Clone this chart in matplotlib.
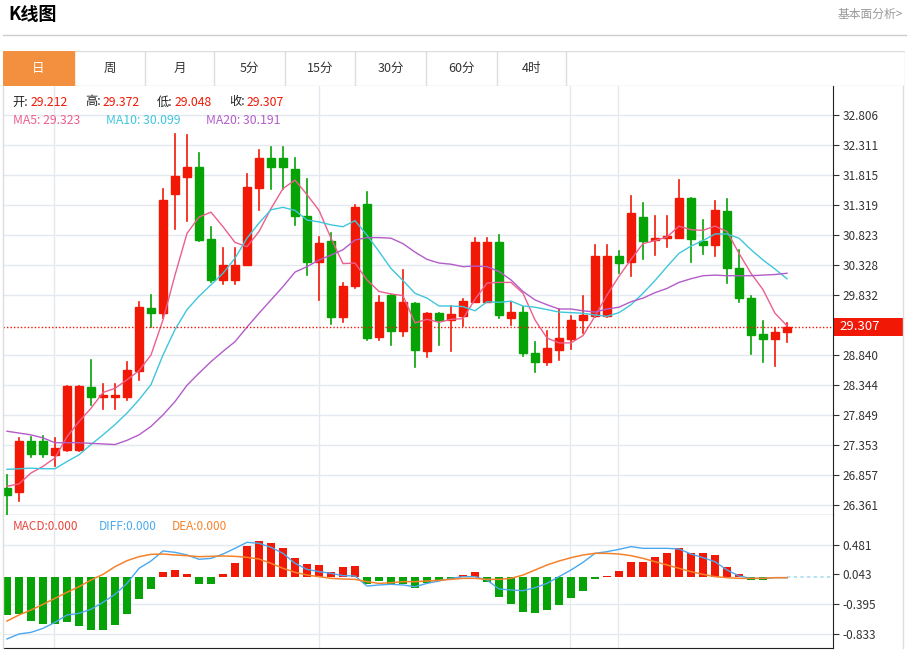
import numpy as np
import matplotlib.pyplot as plt
from matplotlib.patches import Rectangle

plt.rcParams['font.family'] = ['Noto Sans CJK SC', 'DejaVu Sans']

# daily candles: open, high, low, close
opens = [26.65, 26.57, 27.42, 27.42, 27.19, 27.27, 27.27, 28.31, 28.15, 28.15,
         28.15, 28.57, 29.62, 29.54, 31.50, 31.78, 31.95, 30.75, 30.08, 30.08,
         30.32, 31.60, 32.09, 32.09, 31.91, 31.13, 30.37, 30.73, 29.46, 29.98,
         31.33, 29.13, 29.83, 29.24, 29.70, 28.91, 29.53, 29.42, 29.49, 29.71,
         29.71, 30.70, 29.45, 29.55, 28.88, 28.73, 28.92, 29.11, 29.42, 29.49,
         29.48, 30.47, 30.37, 31.12, 30.74, 30.77, 30.78, 31.43, 30.73, 30.65,
         31.22, 30.27, 29.78, 29.18, 29.10, 29.212]
highs = [26.86, 27.47, 27.49, 27.50, 27.47, 28.33, 28.33, 28.75, 28.36, 28.36,
         28.72, 29.72, 29.83, 31.58, 32.49, 32.48, 32.18, 30.96, 30.60, 30.60,
         31.83, 32.23, 32.28, 32.28, 32.09, 31.75, 30.79, 30.86, 30.03, 31.32,
         31.53, 29.81, 29.83, 30.24, 29.70, 29.54, 29.54, 29.65, 29.76, 30.77,
         30.77, 30.82, 29.71, 29.64, 29.06, 29.24, 29.60, 29.48, 29.81, 30.65,
         30.65, 30.56, 31.47, 31.35, 31.13, 31.14, 31.73, 31.43, 31.07, 31.39,
         31.41, 30.58, 29.82, 29.40, 29.28, 29.372]
lows = [26.20, 26.42, 27.15, 27.15, 27.00, 27.26, 27.26, 28.02, 27.95, 27.95,
        28.10, 28.42, 29.31, 29.45, 30.92, 31.06, 30.73, 30.04, 30.02, 30.02,
        30.32, 31.23, 31.58, 31.58, 30.99, 30.16, 29.75, 29.35, 29.38, 29.95,
        29.09, 29.09, 29.01, 29.16, 28.64, 28.81, 29.01, 28.91, 29.32, 29.71,
        29.71, 29.45, 29.33, 28.83, 28.56, 28.67, 28.76, 28.94, 29.20, 29.47,
        29.47, 30.19, 30.14, 30.42, 30.49, 30.63, 30.78, 30.37, 30.51, 30.48,
        30.03, 29.72, 28.86, 28.73, 28.65, 29.048]
closes = [26.53, 27.42, 27.20, 27.20, 27.31, 28.32, 28.32, 28.14, 28.18, 28.18,
          28.60, 29.64, 29.54, 31.40, 31.79, 31.95, 30.74, 30.08, 30.33, 30.33,
          31.61, 32.09, 31.94, 31.94, 31.13, 30.37, 30.69, 29.46, 29.98, 31.29,
          29.12, 29.72, 29.24, 29.71, 28.92, 29.54, 29.42, 29.51, 29.74, 30.71,
          30.71, 29.50, 29.55, 28.87, 28.73, 28.95, 29.12, 29.42, 29.50, 30.48,
          30.48, 30.36, 31.19, 30.73, 30.78, 30.80, 31.44, 30.76, 30.65, 31.24,
          30.27, 29.79, 29.17, 29.10, 29.22, 29.307]

ma5 = [26.67, 26.71, 26.89, 27.00, 27.14, 27.49, 27.74, 27.96, 28.22, 28.29,
       28.43, 28.58, 28.84, 29.42, 30.16, 30.85, 31.12, 31.20, 30.96, 30.70,
       30.63, 30.88, 31.26, 31.59, 31.73, 31.49, 31.23, 30.77, 30.35, 30.36,
       30.08, 29.89, 29.85, 29.82, 29.37, 29.43, 29.38, 29.43, 29.44, 29.76,
       30.03, 30.04, 30.04, 29.86, 29.42, 29.12, 29.04, 29.04, 29.16, 29.48,
       29.83, 30.14, 30.42, 30.68, 30.73, 30.79, 30.97, 30.91, 30.90, 30.97,
       30.88, 30.52, 30.19, 29.92, 29.53, 29.323]
ma10 = [26.95, 26.96, 26.97, 26.96, 26.96, 27.08, 27.19, 27.36, 27.52, 27.69,
        27.88, 28.10, 28.35, 28.84, 29.26, 29.59, 29.81, 30.00, 30.19, 30.44,
        30.77, 31.02, 31.24, 31.28, 31.23, 31.07, 31.04, 30.99, 30.96, 31.06,
        30.82, 30.55, 30.27, 30.07, 29.86, 29.78, 29.65, 29.65, 29.64, 29.57,
        29.72, 29.71, 29.73, 29.65, 29.63, 29.59, 29.55, 29.54, 29.53, 29.50,
        29.48, 29.54, 29.67, 29.86, 30.07, 30.30, 30.52, 30.64, 30.73, 30.84,
        30.84, 30.77, 30.58, 30.41, 30.26, 30.099]
ma20 = [27.58, 27.55, 27.52, 27.47, 27.39, 27.39, 27.39, 27.38, 27.37, 27.36,
        27.43, 27.52, 27.66, 27.85, 28.07, 28.34, 28.54, 28.73, 28.90, 29.06,
        29.30, 29.53, 29.75, 29.97, 30.21, 30.30, 30.41, 30.49, 30.58, 30.74,
        30.78, 30.78, 30.77, 30.68, 30.54, 30.42, 30.36, 30.34, 30.30, 30.31,
        30.30, 30.22, 30.08, 29.89, 29.75, 29.67, 29.60, 29.60, 29.57, 29.55,
        29.60, 29.63, 29.72, 29.78, 29.87, 29.94, 30.04, 30.10, 30.15, 30.16,
        30.15, 30.15, 30.15, 30.16, 30.17, 30.191]

macd = [-0.556, -0.541, -0.644, -0.689, -0.694, -0.654, -0.723, -0.782, -0.777, -0.708,
        -0.546, -0.325, -0.172, 0.084, 0.113, 0.044, -0.103, -0.098, 0.044, 0.216,
        0.462, 0.536, 0.502, 0.438, 0.290, 0.192, 0.182, 0.074, 0.157, 0.167,
        -0.098, -0.054, -0.098, -0.098, -0.153, -0.079, -0.054, -0.025, 0.034, 0.074,
        -0.074, -0.295, -0.394, -0.507, -0.522, -0.477, -0.408, -0.310, -0.202, -0.030,
        0.025, 0.098, 0.226, 0.226, 0.300, 0.364, 0.433, 0.364, 0.354, 0.335,
        0.152, 0.044, -0.039, -0.039, -0.010, 0.0]
diff = [-0.910, -0.836, -0.812, -0.753, -0.664, -0.556, -0.531, -0.472, -0.369, -0.251,
        -0.089, 0.133, 0.241, 0.389, 0.369, 0.330, 0.266, 0.280, 0.344, 0.428,
        0.517, 0.502, 0.443, 0.354, 0.207, 0.118, 0.084, 0.059, 0.025, 0.020,
        -0.128, -0.113, -0.103, -0.113, -0.138, -0.089, -0.054, -0.015, 0.010, 0.010,
        -0.039, -0.172, -0.187, -0.197, -0.153, -0.089, 0.010, 0.108, 0.221, 0.354,
        0.379, 0.413, 0.453, 0.428, 0.428, 0.428, 0.418, 0.344, 0.290, 0.231,
        0.108, 0.020, -0.015, -0.015, -0.005, -0.005]
dea = [-0.645, -0.556, -0.482, -0.399, -0.310, -0.221, -0.138, -0.039, 0.044, 0.157,
       0.246, 0.305, 0.339, 0.344, 0.330, 0.320, 0.305, 0.310, 0.315, 0.310,
       0.295, 0.271, 0.207, 0.133, 0.074, 0.034, 0.010, -0.015, -0.025, -0.030,
       -0.064, -0.089, -0.079, -0.064, -0.064, -0.054, -0.044, -0.030, -0.015, -0.015,
       -0.030, -0.030, -0.015, 0.034, 0.108, 0.182, 0.241, 0.290, 0.330, 0.354,
       0.354, 0.344, 0.320, 0.280, 0.231, 0.182, 0.133, 0.084, 0.044, 0.010,
       -0.005, -0.015, -0.015, -0.015, -0.005, -0.005]

price_ticks = [32.806, 32.311, 31.815, 31.319, 30.823, 30.328, 29.832,
               29.307, 28.840, 28.344, 27.849, 27.353, 26.857, 26.361]
macd_ticks = [0.481, 0.043, -0.395, -0.833]
tabs = ['日', '周', '月', '5分', '15分', '30分', '60分', '4时']
last = 29.307

RED = '#f21806'
GREEN = '#05a305'
GRID = '#e3e9ef'
W, H = 909, 650

fig = plt.figure(figsize=(W / 100, H / 100), dpi=100)

def ax_px(x0, y0, x1, y1, **kw):
    return fig.add_axes([x0 / W, 1 - y1 / H, (x1 - x0) / W, (y1 - y0) / H], **kw)

# header
fig.text(8 / W, 1 - 15 / H, 'K线图', fontsize=13, fontweight='bold', va='center')
fig.text(903 / W, 1 - 14 / H, '基本面分析>', fontsize=8.5, color='#999999', va='center', ha='right')
fig.add_artist(plt.Line2D([3 / W, 906 / W], [1 - 35 / H] * 2, color='#cccccc', lw=1))

# tab bar
bounds = [3, 74, 145, 214, 285, 355, 426, 497, 566]
tab_ax = ax_px(3, 51, 905, 86)
tab_ax.set_xlim(3, 905)
tab_ax.set_ylim(0, 1)
tab_ax.axis('off')
tab_ax.add_patch(Rectangle((3, 0), 901.5, 1, fill=False, ec='#dddddd', lw=1))
for i, t in enumerate(tabs):
    a, b = bounds[i], bounds[i + 1]
    if i == 0:
        tab_ax.add_patch(Rectangle((a, 0), b - a, 1, color='#f39040'))
    else:
        tab_ax.plot([b, b], [0, 1], color='#dddddd', lw=1)
    tab_ax.text((a + b) / 2, 0.5, t, ha='center', va='center', fontsize=9,
                color='white' if i == 0 else '#333333')

x = np.arange(len(closes))
x_lo, x_hi = (3 - 7) / 12, (833 - 7) / 12
vlines = [(v - 7) / 12 for v in (54, 319, 570, 618)]

# candle panel
ax = ax_px(3, 86, 833, 515)
ax.set_xlim(x_lo, x_hi)
ax.set_ylim(26.361 - 10 * 0.016526, 32.806 + 29 * 0.016526)
for t in price_ticks:
    if t != last:
        ax.axhline(t, color=GRID, lw=1, zorder=0)
for v in vlines:
    ax.axvline(v, color=GRID, lw=1, zorder=0)
for i in x:
    o, h, l, c = opens[i], highs[i], lows[i], closes[i]
    col = RED if c >= o else GREEN
    ax.plot([i, i], [l, h], color=col, lw=1.2, zorder=2)
    ax.add_patch(Rectangle((i - 0.36, min(o, c)), 0.72, max(abs(c - o), 0.02), color=col, zorder=3))
ax.plot(x, ma5, color='#ec5f8d', lw=1, zorder=4)
ax.plot(x, ma10, color='#3fc6dc', lw=1, zorder=4)
ax.plot(x, ma20, color='#b35cc9', lw=1, zorder=4)
ax.axhline(last, color=RED, lw=1, ls=(0, (1, 1.5)), zorder=5)
ax.yaxis.tick_right()
ax.set_yticks([t for t in price_ticks if t != last])
ax.set_yticklabels([f'{t:.3f}' for t in price_ticks if t != last], fontsize=8.5, color='#333333')
ax.tick_params(axis='y', length=4, color='#333333', pad=3)
ax.set_xticks([])
for s in ('top', 'left'):
    ax.spines[s].set_visible(False)
ax.spines['right'].set_color('#222222')
ax.spines['bottom'].set_color('#222222')

# last price box on the axis
y0, y1 = ax.get_ylim()
yf = (last - y0) / (y1 - y0)
box = ax_px(834, 0, 903, 18)
box_h = 18 / H
box_y = (1 - 515 / H) + yf * (429 / H) - box_h / 2
box.set_position([834 / W, box_y, 69 / W, box_h])
box.set_facecolor(RED)
box.set_xticks([])
box.set_yticks([])
for s in box.spines.values():
    s.set_visible(False)
box.text(0.08, 0.5, f'{last:.3f}', transform=box.transAxes, ha='left', va='center',
         fontsize=9.5, color='white')

# legend texts
def row(y, parts, size=8.8):
    for px, txt, col in parts:
        fig.text(px / W, 1 - y / H, txt, fontsize=size, color=col, va='center')

row(102, [(12, '开:', '#222222'), (31, '29.212', RED), (85, '高:', '#222222'), (103, '29.372', RED),
          (157, '低:', '#222222'), (175, '29.048', RED), (229, '收:', '#222222'), (247, '29.307', RED)])
row(121, [(13, 'MA5: 29.323', '#ec5f8d'), (106, 'MA10: 30.099', '#3fc6dc'), (206, 'MA20: 30.191', '#b35cc9')])

# macd panel
mx = ax_px(3, 515, 833, 648)
mx.set_xlim(x_lo, x_hi)
mx.set_ylim(-1.043, 0.920)
for t in macd_ticks:
    if t != 0.043:
        mx.axhline(t, color=GRID, lw=1, zorder=0)
for v in vlines:
    mx.axvline(v, color=GRID, lw=1, zorder=0)
mcol = [RED if m > 0 else GREEN for m in macd]
mx.bar(x, macd, width=0.72, color=mcol, zorder=2)
mx.plot(x, diff, color='#4aa8f0', lw=1, zorder=3)
mx.plot(x, dea, color='#f5822a', lw=1.1, zorder=3)
mx.plot([x[-1], x_hi], [0, 0], color='#a8dcf0', lw=1.2, ls=(0, (2, 2)), zorder=1)
mx.yaxis.tick_right()
mx.set_yticks(macd_ticks)
mx.set_yticklabels([f'{t:.3f}' for t in macd_ticks], fontsize=8.5, color='#333333')
mx.tick_params(axis='y', length=4, color='#333333', pad=3)
mx.set_xticks([])
mx.spines['left'].set_visible(False)
mx.spines['top'].set_visible(False)
mx.spines['right'].set_color('#222222')
mx.spines['bottom'].set_color('#222222')

row(527, [(13, 'MACD:0.000', '#e8463c'), (99, 'DIFF:0.000', '#4aa8f0'), (172, 'DEA:0.000', '#f5822a')], size=8.5)

# outer frame sides
fig.add_artist(plt.Line2D([903 / W] * 2, [1 - 86 / H, 1 - 648 / H], color='#dddddd', lw=1))
fig.add_artist(plt.Line2D([3 / W] * 2, [1 - 86 / H, 1 - 648 / H], color='#dddddd', lw=1))

fig.savefig('out.png', dpi=100)
